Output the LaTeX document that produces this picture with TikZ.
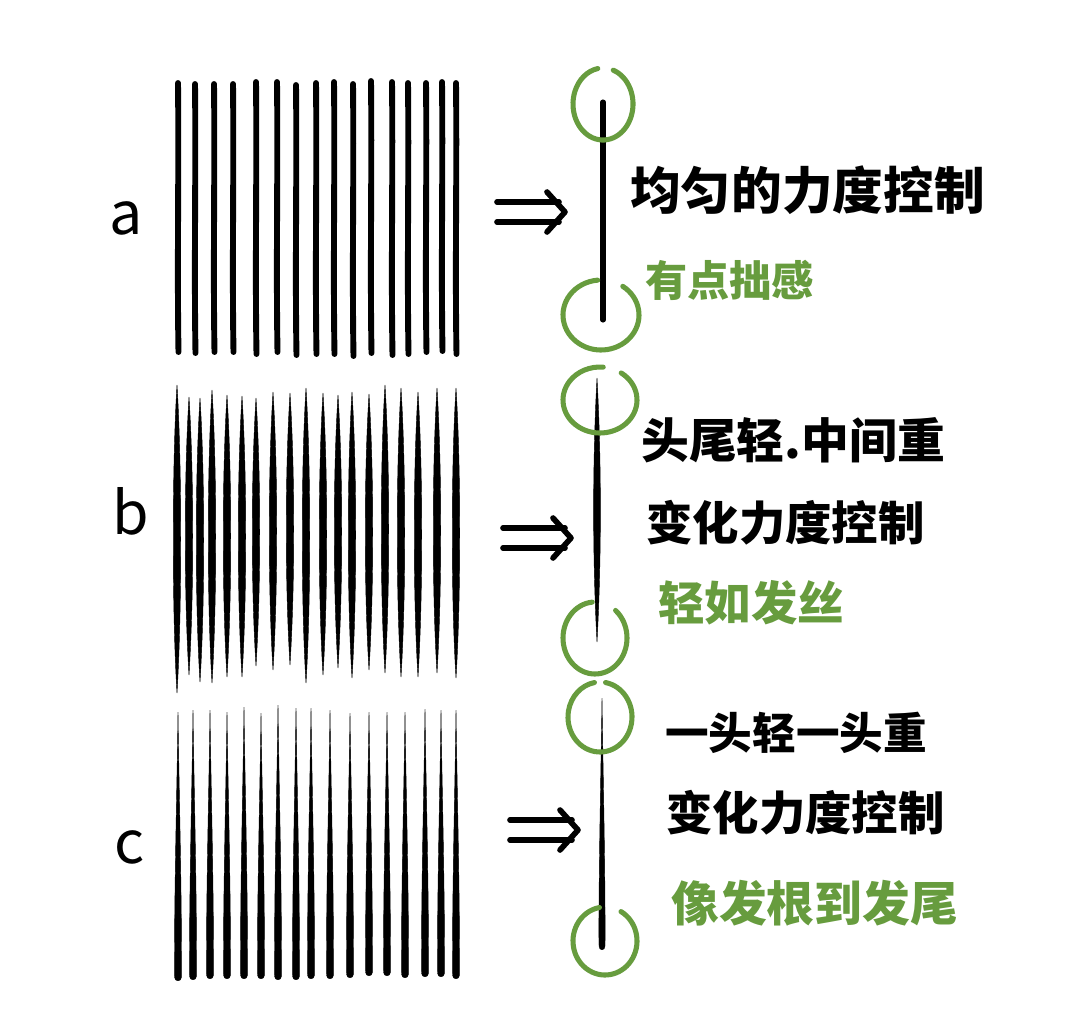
\documentclass[tikz,border=0pt]{standalone}
\usepackage{fontspec}
\usepackage{tikz}
\usetikzlibrary{arrows.meta,positioning,calc}
\newfontfamily\cjk{Noto Sans CJK SC}
\definecolor{leaf}{RGB}{103,156,62}
\tikzset{
  ink/.style={fill=black,draw=black,line width=0.3pt},
  hair/.style={draw=black,line width=4.2pt,line cap=round},
  stem/.style={draw=black,line width=3.6pt,line cap=round},
  ring/.style={draw=leaf,line width=3.6pt,line cap=round},
  twin/.style={draw=black,line width=4pt,line cap=round,line join=round},
  note/.style={anchor=west,inner sep=0pt,font=\cjk\bfseries\fontsize{#1}{#1}\selectfont},
  hint/.style={note=#1,text=leaf},
  tag/.style={inner sep=0pt,font=\cjk\fontsize{42}{42}\selectfont},
}
\begin{document}
\begin{tikzpicture}[x=0.025cm,y=-0.025cm]
  \useasboundingbox (0,0) rectangle (1080,1035);
  % row a: even pressure
  \node[tag] (taga) at (126,218) {a};
  \foreach \x/\t/\b in {178/83/352,195/84/353,214/84/352,233/84/352,256/82/354,277/82/352,
      296/85/355,316/83/354,334/82/354,353/84/356,371/81/353,392/82/355,408/83/354,
      426/83/352,442/82/351,456/83/354}
    \draw[hair] (\x,\t) .. controls (\x+1,\t+90) and (\x-1,\b-90) .. (\x+0.5,\b);
  % row b: light ends, heavy middle
  \node[tag] (tagb) at (131,511) {b};
  \foreach \x/\t/\b in {177/385/693,189/397/675,200/398/682,212/390/683,227/395/677,
      242/396/677,256/398/666,273/392/670,290/393/665,306/388/683,323/393/675,
      338/395/668,352/392/678,369/394/670,385/385/673,401/388/677,418/392/677,
      437/388/673,456/388/678}
    \fill[ink] (\x,\t) .. controls (\x+5,\t+80) and (\x+5,\b-80) .. (\x,\b)
      .. controls (\x-5,\b-80) and (\x-5,\t+80) .. cycle;
  % row c: light top, heavy bottom
  \node[tag] (tagc) at (130,847) {c};
  \foreach \x/\t/\b in {178/712/980,193/710/979,210/710/978,227/712/978,244/707/978,
      261/713/978,278/705/979,296/708/979,311/708/978,330/710/978,350/713/977,
      369/712/975,387/712/975,405/712/977,425/709/976,441/710/976,456/710/978}
    \fill[ink] (\x,\t) .. controls (\x+0.8,\t+70) and (\x+3.8,\b-90) .. (\x+3.5,\b-3)
      .. controls (\x+3.5,\b+2) and (\x-3.5,\b+2) .. (\x-3.5,\b-3)
      .. controls (\x-3.8,\b-90) and (\x-0.8,\t+70) .. cycle;
  % arrows
  \foreach \x/\y in {497/212,503/538,510/830}{
    \draw[twin] (\x,\y-10) -- (\x+62,\y-10);
    \draw[twin] (\x,\y+10) -- (\x+62,\y+10);
    \draw[twin] (\x+50,\y-20) -- (\x+68,\y) -- (\x+50,\y+20);
  }
  % single strokes with their ends ringed
  \coordinate (atop) at (603,104);
  \coordinate (abot) at (601,315);
  \draw[stem] (603,102) -- (603,320);
  \draw[ring] (atop) ++(-70:30 and 36) arc[start angle=-70,end angle=260,x radius=30,y radius=36];
  \draw[ring] (abot) ++(-55:38 and 35) arc[start angle=-55,end angle=265,x radius=38,y radius=35];
  \node[note=36] (anote) at (630,190) {均匀的力度控制};
  \node[hint=30] (ahint) at (645,280) {有点拙感};

  \coordinate (btop) at (600,400);
  \coordinate (bbot) at (595,638);
  \fill[ink] (597,378) .. controls (601.5,460) and (601.5,560) .. (597,642)
    .. controls (592.5,560) and (592.5,460) .. cycle;
  \draw[ring] (btop) ++(-55:37 and 33) arc[start angle=-55,end angle=275,x radius=37,y radius=33];
  \draw[ring] (bbot) ++(-50:32 and 36) arc[start angle=-50,end angle=265,x radius=32,y radius=36];
  \node[note=34] (bnote) at (641,440) {头尾轻.中间重};
  \node[note=33] (bmore) at (646,523) {变化力度控制};
  \node[hint=33] (bhint) at (658,603) {轻如发丝};

  \coordinate (ctop) at (600,717);
  \coordinate (cbot) at (605,941);
  \fill[ink] (602,698) .. controls (602.8,760) and (605.5,880) .. (605,946)
    .. controls (605,951) and (599,951) .. (599,946)
    .. controls (598.5,880) and (601.2,760) .. cycle;
  \draw[ring] (ctop) ++(-80:32 and 35) arc[start angle=-80,end angle=260,x radius=32,y radius=35];
  \draw[ring] (cbot) ++(-60:32 and 34) arc[start angle=-60,end angle=260,x radius=32,y radius=34];
  \node[note=31] (cnote) at (665,733) {一头轻一头重};
  \node[note=33] (cmore) at (666,813) {变化力度控制};
  \node[hint=34] (chint) at (671,903) {像发根到发尾};
\end{tikzpicture}
\end{document}
